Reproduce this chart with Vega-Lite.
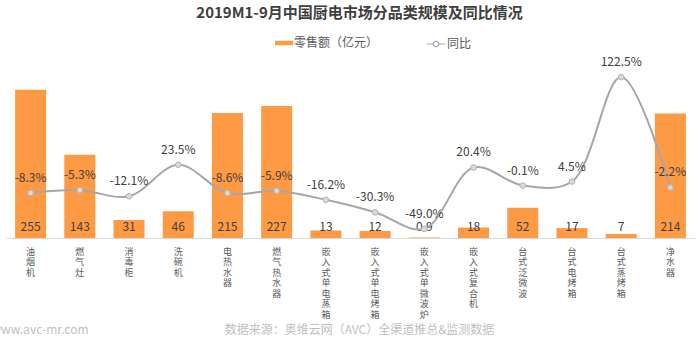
{
  "$schema": "https://vega.github.io/schema/vega-lite/v6.json",
  "autosize": {"type": "none"},
  "width": 689,
  "height": 178,
  "padding": {"left": 6, "top": 60, "right": 5, "bottom": 107},
  "background": "#ffffff",
  "config": {
    "font": "Noto Sans CJK SC",
    "view": {"stroke": null}
  },
  "title": {
    "text": "2019M1-9月中国厨电市场分品类规模及同比情况",
    "fontSize": 15,
    "fontWeight": "bold",
    "color": "#404040",
    "anchor": "middle",
    "dx": 9,
    "offset": 13
  },
  "data": {
    "values": [
      {"cat": "油烟机", "val": 255, "yoy": -8.3, "lbl": "-8.3%"},
      {"cat": "燃气灶", "val": 143, "yoy": -5.3, "lbl": "-5.3%"},
      {"cat": "消毒柜", "val": 31, "yoy": -12.1, "lbl": "-12.1%"},
      {"cat": "洗碗机", "val": 46, "yoy": 23.5, "lbl": "23.5%"},
      {"cat": "电热水器", "val": 215, "yoy": -8.6, "lbl": "-8.6%"},
      {"cat": "燃气热水器", "val": 227, "yoy": -5.9, "lbl": "-5.9%"},
      {"cat": "嵌入式单电蒸箱", "val": 13, "yoy": -16.2, "lbl": "-16.2%"},
      {"cat": "嵌入式单电烤箱", "val": 12, "yoy": -30.3, "lbl": "-30.3%"},
      {"cat": "嵌入式单微波炉", "val": 0.9, "yoy": -49.0, "lbl": "-49.0%"},
      {"cat": "嵌入式复合机", "val": 18, "yoy": 20.4, "lbl": "20.4%"},
      {"cat": "台式泛微波", "val": 52, "yoy": -0.1, "lbl": "-0.1%"},
      {"cat": "台式电烤箱", "val": 17, "yoy": 4.5, "lbl": "4.5%"},
      {"cat": "台式蒸烤箱", "val": 7, "yoy": 122.5, "lbl": "122.5%"},
      {"cat": "净水器", "val": 214, "yoy": -2.2, "lbl": "-2.2%"}
    ]
  },
  "encoding": {
    "x": {
      "field": "cat",
      "type": "nominal",
      "sort": null,
      "scale": {"paddingInner": 0.37, "paddingOuter": 0.185},
      "axis": {
        "title": "数据来源：奥维云网（AVC）全渠道推总&监测数据",
        "titleFontSize": 12,
        "titleFontWeight": "normal",
        "titleColor": "#bfbfbf",
        "titleX": 353,
        "titleY": 91,
        "titleAlign": "center",
        "titleBaseline": "middle",
        "labelAngle": 0,
        "labelExpr": "split(datum.label, '')",
        "labelLineHeight": 10.5,
        "labelFontSize": 9,
        "labelColor": "#595959",
        "labelPadding": 9,
        "labelBaseline": "top",
        "labelOverlap": false,
        "labelBound": false,
        "ticks": false,
        "domainColor": "#d9d9d9",
        "domainWidth": 1
      }
    }
  },
  "layer": [
    {
      "encoding": {
        "y": {
          "type": "quantitative",
          "scale": {"domain": [0, 306], "nice": false, "zero": true},
          "axis": {
            "title": "www.avc-mr.com",
            "titleAngle": 0,
            "titleAlign": "left",
            "titleBaseline": "middle",
            "titleX": -15,
            "titleY": 269,
            "titleFontSize": 12,
            "titleFontWeight": "normal",
            "titleColor": "#bfbfbf",
            "labels": false,
            "ticks": false,
            "domain": false,
            "grid": false
          }
        }
      },
      "layer": [
        {
          "mark": {"type": "bar"},
          "encoding": {
            "y": {"field": "val", "type": "quantitative"},
            "fill": {
              "datum": "零售额（亿元）",
              "type": "nominal",
              "scale": {"range": ["#FE9A43"]},
              "legend": {
                "orient": "none",
                "legendX": 269,
                "legendY": -26,
                "title": null,
                "symbolType": "M-1,-0.25H1V0.25H-1Z",
                "symbolSize": 324,
                "symbolStrokeWidth": 0,
                "labelFontSize": 12,
                "labelColor": "#595959",
                "labelOffset": 1
              }
            }
          }
        },
        {
          "mark": {"type": "text", "dy": -11, "baseline": "middle", "fontSize": 12, "color": "#404040"},
          "encoding": {
            "y": {"datum": 0, "type": "quantitative"},
            "text": {"field": "val", "type": "nominal"}
          }
        }
      ]
    },
    {
      "encoding": {
        "y": {
          "field": "yoy",
          "type": "quantitative",
          "scale": {"domain": [-59.3, 141.8], "nice": false, "zero": false},
          "axis": null
        }
      },
      "layer": [
        {
          "mark": {"type": "line", "interpolate": "catmull-rom", "strokeWidth": 2},
          "encoding": {
            "stroke": {
              "datum": "同比",
              "type": "nominal",
              "scale": {"range": ["#A6A6A6"]},
              "legend": {
                "orient": "none",
                "legendX": 420,
                "legendY": -26,
                "title": null,
                "symbolType": "M-1,0H-0.3M0.3,0H1M-0.3,0A0.3,0.3,0,1,1,0.3,0A0.3,0.3,0,1,1,-0.3,0",
                "symbolSize": 324,
                "symbolStrokeWidth": 1.2,
                "labelFontSize": 12,
                "labelColor": "#595959",
                "labelOffset": 1
              }
            }
          }
        },
        {
          "mark": {"type": "circle", "size": 32, "fill": "#D9D9D9", "stroke": "#B5B5B5", "strokeWidth": 1, "opacity": 1},
          "encoding": {}
        },
        {
          "mark": {"type": "text", "dy": -15, "baseline": "middle", "fontSize": 12, "color": "#404040"},
          "encoding": {
            "text": {"field": "lbl", "type": "nominal"}
          }
        }
      ]
    }
  ],
  "resolve": {"scale": {"y": "independent"}}
}
